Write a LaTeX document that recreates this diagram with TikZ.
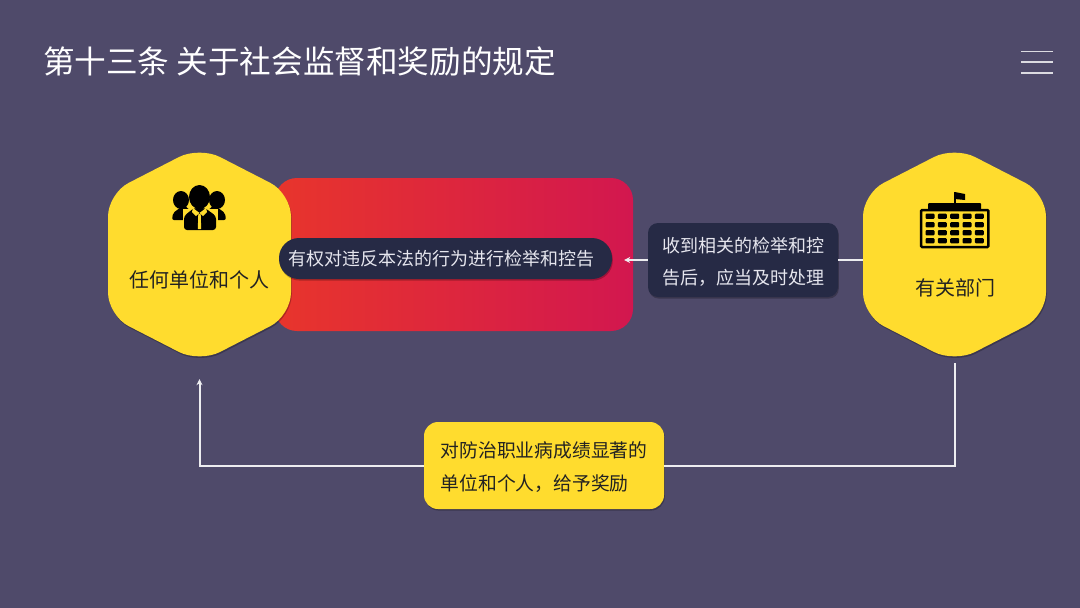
\documentclass[tikz,border=0pt]{standalone}
\usepackage{fontspec}
\setmainfont{Noto Sans CJK SC}
\usepackage{xcolor}
\usetikzlibrary{arrows.meta,positioning,shadows}

\definecolor{slidebg}{HTML}{4F4A6A}
\definecolor{hexyellow}{HTML}{FFDC2E}
\definecolor{navy}{HTML}{262A45}
\definecolor{paletext}{HTML}{E6E6EE}
\definecolor{inktext}{HTML}{222222}
\definecolor{bandleft}{HTML}{E8352C}
\definecolor{bandright}{HTML}{D2174F}
\newcommand{\dropline}[1]{\raisebox{-2pt}[\height][\depth]{#1}}

\begin{document}
\begin{tikzpicture}[
  x=1pt, y=-1pt,
  softshadow/.style={drop shadow={shadow xshift=.8pt, shadow yshift=-1.6pt, opacity=.25, fill=black}},
  hexbox/.style={minimum width=183pt, minimum height=205pt, inner sep=0pt},
  hexfill/.style={fill=hexyellow, rounded corners=23pt, softshadow},
  hexlabel/.style={inner sep=0pt, text=inktext, font=\fontsize{20}{24}\selectfont},
  redbox/.style={minimum width=358pt, minimum height=153pt, inner sep=0pt, rounded corners=22pt,
    left color=bandleft, right color=bandright},
  pill/.style={minimum width=333pt, minimum height=41pt, inner sep=0pt, rounded corners=20pt,
    fill=navy, text=paletext, softshadow, font=\fontsize{18}{22}\selectfont},
  notice/.style={minimum width=190pt, minimum height=74pt, inner sep=0pt, rounded corners=10pt,
    fill=navy, text=paletext, align=left, softshadow, font=\fontsize{18}{32}\selectfont},
  award/.style={minimum width=240pt, minimum height=87pt, inner sep=0pt, rounded corners=14pt,
    fill=hexyellow, text=inktext, align=left, softshadow, font=\fontsize{18.8}{33}\selectfont},
  link/.style={draw=white!90!slidebg, line width=1.2pt},
  linkbold/.style={draw=white!90!slidebg, line width=2pt},
  arr/.style={-{Stealth[length=6pt, width=6pt]}},
  menuline/.style={draw=white!80!slidebg, line width=1.8pt}
]
  \fill[slidebg] (0,0) rectangle (1080,608);

  % title and menu
  \node[anchor=west, inner sep=0pt, text=white, font=\fontsize{31.6}{36}\selectfont] (title) at (43,61) {第十三条 关于社会监督和奖励的规定};
  \foreach \y in {51.5,62,73}
    \draw[menuline] (1021,\y) -- (1053,\y);

  % red band under the left hexagon
  \node[redbox] (band) at (454,254.5) {};

  % hexagons
  \node[hexbox] (unit) at (199.5,254.5) {};
  \node[hexbox] (dept) at (954.5,254.5) {};
  \foreach \hex in {unit,dept}
    \fill[hexfill, shift={(\hex)}] (0,-108) -- (91.5,-61) -- (91.5,61) -- (0,108)
      -- (-91.5,61) -- (-91.5,-61) -- cycle;
  \node[hexlabel] (unitlabel) at (199.5,280) {任何单位和个人};
  \node[hexlabel] (deptlabel) at (955,288) {有关部门};

  % people icon
  \fill[black] (181,200) ellipse (8 and 9);
  \fill[black] (217,200) ellipse (8 and 9);
  \fill[black, rounded corners=2pt] (172,220) -- (173,213) -- (184,205) -- (192,212) -- (192,220) -- cycle;
  \fill[black, rounded corners=2pt] (226,220) -- (225,213) -- (214,205) -- (206,212) -- (206,220) -- cycle;
  \fill[hexyellow] (182.5,231) -- (182.5,209) -- (217.5,209) -- (217.5,231) -- cycle;
  \fill[black] (199.5,197) ellipse (10.5 and 12);
  \fill[black, rounded corners=3pt] (184,230) -- (184,216) -- (194,208) -- (205,208) -- (216,216) -- (216,230) -- cycle;
  \fill[hexyellow] (193,208) -- (199.5,213) -- (206,208) -- (207,212) -- (203,216) -- (199.5,213) -- (196,216) -- (192,212) -- cycle;
  \fill[hexyellow] (198.3,214) -- (200.7,214) -- (201.2,229) -- (197.8,229) -- cycle;

  % building icon
  \fill[black] (953.7,192) rectangle (955.7,204);
  \fill[black] (955,192) -- (965,194) -- (965,200) -- (955,199) -- cycle;
  \fill[black, rounded corners=1pt] (928,203) rectangle (981,210);
  \draw[black, line width=2.5pt, rounded corners=1pt] (921.2,210) rectangle (988.3,247);
  \foreach \wx in {930,942.3,954.7,967,979.3}
    \foreach \wy in {216.3,224.7,232.7,240.7}
      \fill[black, rounded corners=1pt] (\wx-4.5,\wy-2.6) rectangle (\wx+4.5,\wy+2.6);

  % text boxes
  \node[pill] (charge) at (445.5,258.5) {有权对违反本法的行为进行检举和控告\hspace{9pt}\mbox{}};
  \node[notice] (handle) at (743,260) {\dropline{收到相关的检举和控}\\\dropline{告后，应当及时处理}};
  \node[award] (reward) at (544,465.5) {\dropline{对防治职业病成绩显著的}\\\dropline{单位和个人，给予奖励}};

  % connectors
  \draw[link] (dept.west |- handle.east) -- (handle.east);
  \draw[link, arr, shorten >=12pt] (handle.west) -- (charge.east |- handle.west);
  \draw[linkbold, shorten <=6pt] (dept.south) |- (reward.east);
  \draw[linkbold, arr, shorten >=22pt] (reward.west) -| (unit.south);
\end{tikzpicture}
\end{document}
